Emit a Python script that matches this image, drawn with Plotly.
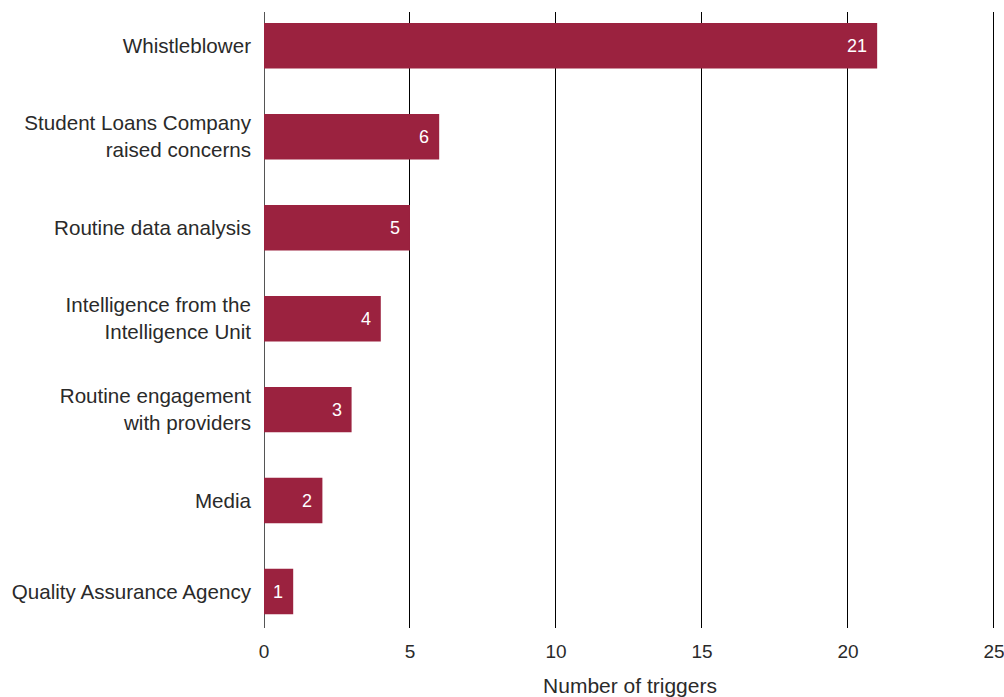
import plotly.graph_objects as go

categories = [
    "Whistleblower",
    "Student Loans Company<br>raised concerns",
    "Routine data analysis",
    "Intelligence from the<br>Intelligence Unit",
    "Routine engagement<br>with providers",
    "Media",
    "Quality Assurance Agency",
]
triggers = [21, 6, 5, 4, 3, 2, 1]
x_ticks = [0, 5, 10, 15, 20, 25]

bar_color = "#9B223F"
font_family = "Liberation Sans, Arial, sans-serif"

fig = go.Figure()
fig.add_trace(go.Bar(
    y=categories,
    x=triggers,
    orientation="h",
    marker=dict(color=bar_color, line=dict(width=0)),
    width=0.5,
    hoverinfo="x+y",
))

# value labels, right-aligned just inside each bar's end
for cat, val in zip(categories, triggers):
    fig.add_annotation(
        x=val, y=cat, text=str(val), showarrow=False,
        xanchor="right", xshift=-8,
        font=dict(color="white", size=18, family=font_family),
    )

fig.update_layout(
    width=1004, height=697,
    margin=dict(l=264, r=8, t=12, b=69),
    paper_bgcolor="white", plot_bgcolor="white",
    showlegend=False,
    font=dict(family=font_family, color="#2a2a2a", size=20),
    xaxis=dict(
        range=[0, 25.07], tickvals=x_ticks,
        automargin=False, ticklabeloverflow="allow",
        showgrid=True, gridcolor="#000000", gridwidth=1,
        zeroline=True, zerolinecolor="#555555", zerolinewidth=1,
        showline=False, ticks="",
        ticklabelstandoff=10,
        tickfont=dict(size=19, color="#2a2a2a"),
        title=dict(text="Number of triggers", font=dict(size=21), standoff=18),
    ),
    yaxis=dict(
        autorange=False, range=[6.4, -0.37],
        categoryorder="array", categoryarray=categories,
        automargin=False,
        showgrid=False, zeroline=False, showline=False, ticks="",
        ticklabelstandoff=12,
        tickfont=dict(size=20.6, color="#2a2a2a"),
    ),
)

fig.write_html("out.html")
